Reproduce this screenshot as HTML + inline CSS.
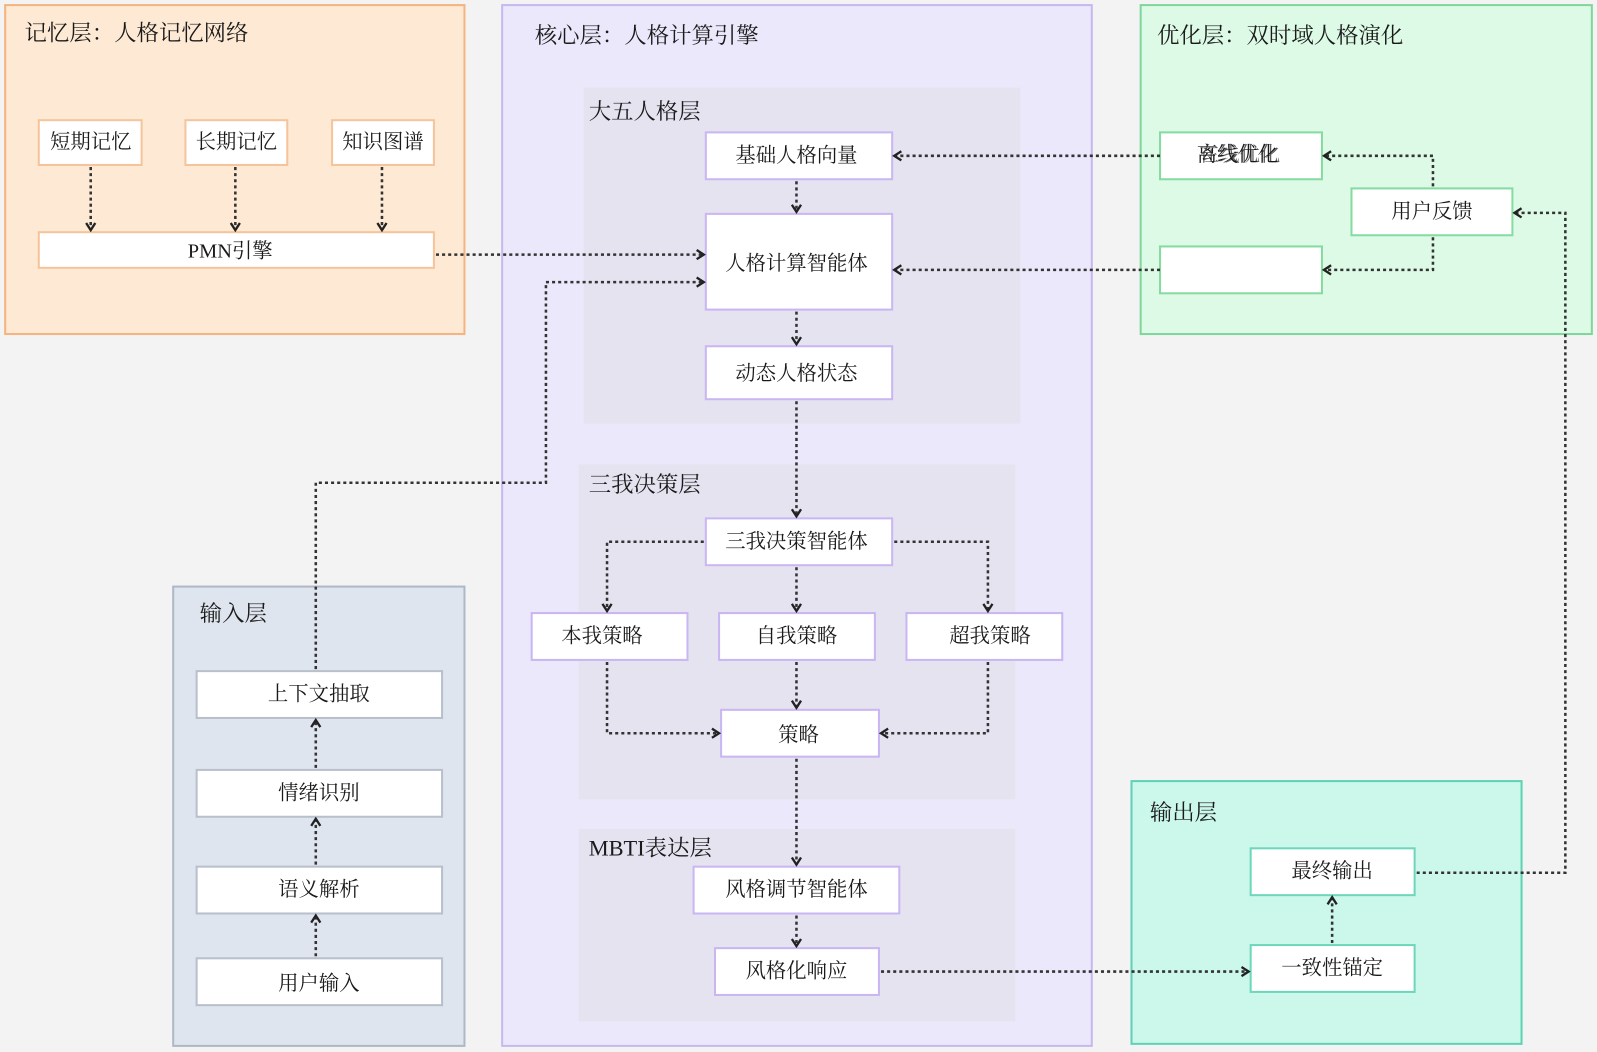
<!DOCTYPE html>
<html><head><meta charset="utf-8"><style>
html,body{margin:0;padding:0;background:#f3f3f3;}
svg{display:block}
text{font-family:"Liberation Serif","Noto Serif CJK SC",serif;fill:#1a1a1a;}
.t{font-size:22px}
.b{font-size:20px;text-anchor:middle;dominant-baseline:central}
.c{fill:none;stroke:#333;stroke-width:2.5;stroke-dasharray:3 3}
</style></head><body>
<svg width="1597" height="1052" viewBox="0 0 1568 1033" xmlns="http://www.w3.org/2000/svg">
<defs>
<marker id="a" viewBox="0 0 12 12" refX="10" refY="6" markerWidth="12" markerHeight="12" markerUnits="userSpaceOnUse" orient="auto">
<path d="M3,1.5 L10,6 L3,10.5" fill="none" stroke="#222" stroke-width="2.3"/>
</marker>
</defs>
<rect width="1568" height="1033" fill="#f3f3f3"/>
<!-- memory -->
<rect x="5" y="5" width="451" height="323" fill="#fde9d4" stroke="#f4b37f" stroke-width="2"/>
<text class="t" x="24" y="40">记忆层：人格记忆网络</text>
<g fill="#fff" stroke="#f6c49a" stroke-width="2">
<rect x="38" y="118" width="101" height="44"/><rect x="182" y="118" width="100" height="44"/><rect x="326" y="118" width="100" height="44"/><rect x="38" y="228" width="388" height="35"/>
</g>
<text class="b" x="89" y="140">短期记忆</text><text class="b" x="232" y="140">长期记忆</text><text class="b" x="376" y="140">知识图谱</text>
<text class="b" x="226" y="247">PMN引擎</text>
<!-- core -->
<rect x="493" y="5" width="579" height="1022" fill="#ece8fc" stroke="#c8b8f0" stroke-width="2"/>
<text class="t" x="525" y="42">核心层：人格计算引擎</text>
<rect x="573" y="86" width="429" height="330" fill="#e6e3f1"/>
<rect x="568" y="456" width="429" height="329" fill="#e6e3f1"/>
<rect x="568" y="814" width="429" height="189" fill="#e6e3f1"/>
<text class="t" x="578" y="117">大五人格层</text>
<text class="t" x="578" y="483">三我决策层</text>
<text class="t" x="578" y="840">MBTI表达层</text>
<g fill="#fff" stroke="#c9b6f2" stroke-width="2">
<rect x="693" y="130" width="183" height="46"/><rect x="693" y="210" width="183" height="94"/><rect x="693" y="340" width="183" height="52"/>
<rect x="693" y="509" width="183" height="46"/><rect x="522" y="602" width="153" height="46"/><rect x="706" y="602" width="153" height="46"/><rect x="890" y="602" width="153" height="46"/>
<rect x="708" y="697" width="155" height="46"/><rect x="681" y="851" width="202" height="46"/><rect x="702" y="931" width="161" height="46"/>
</g>
<text class="b" x="782" y="153">基础人格向量</text><text class="b" x="782" y="259">人格计算智能体</text><text class="b" x="782" y="367">动态人格状态</text>
<text class="b" x="782" y="532">三我决策智能体</text><text class="b" x="591" y="625">本我策略</text><text class="b" x="782" y="625">自我策略</text><text class="b" x="972" y="625">超我策略</text>
<text class="b" x="784" y="722">策略</text><text class="b" x="782" y="874">风格调节智能体</text><text class="b" x="782" y="954">风格化响应</text>
<!-- optimization -->
<rect x="1120" y="5" width="443" height="323" fill="#dcfae6" stroke="#7fd69b" stroke-width="2"/>
<text class="t" x="1136" y="42">优化层：双时域人格演化</text>
<g fill="#fff" stroke="#86dca0" stroke-width="2">
<rect x="1139" y="130" width="159" height="46"/><rect x="1327" y="185" width="158" height="46"/><rect x="1139" y="242" width="159" height="46"/>
</g>
<text class="b" x="1215" y="152">离线优化</text><text class="b" x="1217" y="152" opacity="0.7">在线优化</text>
<text class="b" x="1406" y="208">用户反馈</text>
<!-- input -->
<rect x="170" y="576" width="286" height="451" fill="#dfe5ee" stroke="#aeb8c6" stroke-width="2"/>
<text class="t" x="196" y="610">输入层</text>
<g fill="#fff" stroke="#b8c0cc" stroke-width="2">
<rect x="193" y="659" width="241" height="46"/><rect x="193" y="756" width="241" height="46"/><rect x="193" y="851" width="241" height="46"/><rect x="193" y="941" width="241" height="46"/>
</g>
<text class="b" x="313" y="682">上下文抽取</text><text class="b" x="313" y="779">情绪识别</text><text class="b" x="313" y="874">语义解析</text><text class="b" x="313" y="966">用户输入</text>
<!-- output -->
<rect x="1111" y="767" width="383" height="258" fill="#ccf8ec" stroke="#5fd2b4" stroke-width="2"/>
<text class="t" x="1129" y="805">输出层</text>
<g fill="#fff" stroke="#6ed6bb" stroke-width="2">
<rect x="1228" y="833" width="161" height="46"/><rect x="1228" y="928" width="161" height="46"/>
</g>
<text class="b" x="1308" y="856">最终输出</text><text class="b" x="1308" y="951">一致性锚定</text>
<!-- connectors -->
<g class="c" marker-end="url(#a)">
<path d="M89,164 V226"/><path d="M231,164 V226"/><path d="M375,164 V226"/>
<path d="M428,250 H691"/>
<path d="M310,657 V474 H536 V277 H691"/>
<path d="M782,178 V208"/><path d="M782,306 V338"/><path d="M782,394 V507"/>
<path d="M1139,153 H878"/><path d="M1139,265 H878"/>
<path d="M1407,183 V153 H1300"/><path d="M1407,233 V265 H1300"/>
<path d="M1391,857 H1537 V209 H1487"/>
<path d="M691,532 H596 V600"/><path d="M782,557 V600"/><path d="M878,532 H970 V600"/>
<path d="M596,650 V720 H706"/><path d="M782,650 V695"/><path d="M970,650 V720 H865"/>
<path d="M782,745 V849"/><path d="M782,899 V929"/>
<path d="M865,954 H1226"/><path d="M1308,926 V881"/>
<path d="M310,939 V899"/><path d="M310,849 V804"/><path d="M310,754 V707"/>
</g>
</svg>
</body></html>
